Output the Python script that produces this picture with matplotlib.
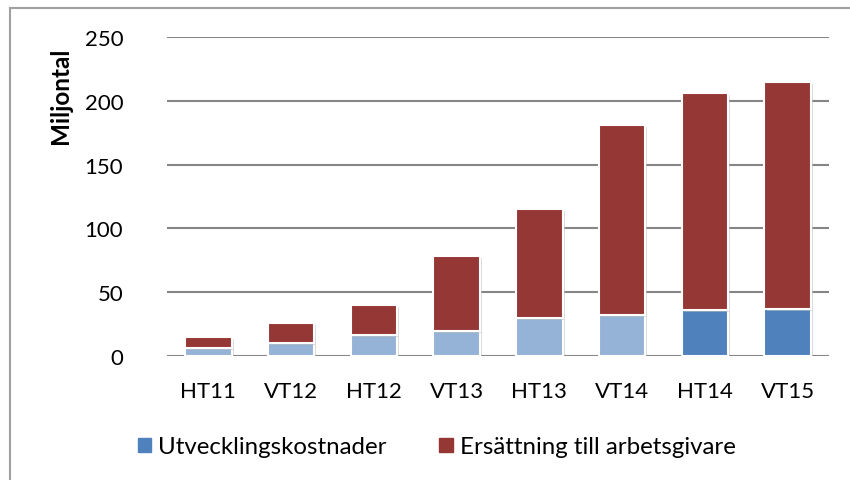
import matplotlib
matplotlib.use("Agg")
import matplotlib.pyplot as plt
import matplotlib.patheffects as pe
from matplotlib.lines import Line2D
import numpy as np

plt.rcParams['font.family'] = ['Lato', 'DejaVu Sans']

terms = ["HT11", "VT12", "HT12", "VT13", "HT13", "VT14", "HT14", "VT15"]
utveckling = [6, 10, 16.5, 19.5, 29.5, 32, 36, 37]
totals = [15, 26, 40, 78.5, 115, 181, 206, 214.5]
ersattning = list(np.array(totals) - np.array(utveckling))

blue_light = "#95B3D7"
blue = "#4F81BD"
red = "#953735"
blue_cols = [blue_light] * 6 + [blue] * 2

fig = plt.figure(figsize=(8.5, 4.81), dpi=100)
ax = fig.add_axes([167 / 850, 1 - 357 / 481, 662 / 850, 319 / 481])

x = np.arange(len(terms))
shadow = [pe.SimplePatchShadow(offset=(1.5, -1.5), shadow_rgbFace="#bbbbbb", alpha=0.5), pe.Normal()]
b1 = ax.bar(x, utveckling, 0.56, color=blue_cols, edgecolor="white", linewidth=1.5,
            zorder=3, label="Utvecklingskostnader")
b2 = ax.bar(x, ersattning, 0.56, bottom=utveckling, color=red, edgecolor="white",
            linewidth=1.5, zorder=3, label="Ersättning till arbetsgivare")
for r in list(b1) + list(b2):
    r.set_path_effects(shadow)

ax.set_xlim(-0.5, 7.5)
ax.set_ylim(0, 250)
ax.set_yticks(range(0, 251, 50))
ax.set_xticks(x)
ax.set_xticklabels(terms)
ax.yaxis.grid(True, color="#868686", linewidth=1.5, zorder=0)
ax.set_axisbelow(True)
for s in ax.spines.values():
    s.set_visible(False)
ax.tick_params(length=0, labelsize=16, colors="black")
ax.tick_params(axis="y", pad=31.5)
ax.tick_params(axis="x", pad=18)
ax.set_ylabel("Miljontal", fontsize=17.5, fontweight="bold")
ax.yaxis.set_label_coords(-95 / 662, (357 - 96) / 319)

handles = [plt.Rectangle((0, 0), 1, 1, color=blue), plt.Rectangle((0, 0), 1, 1, color=red)]
fig.legend(handles, ["Utvecklingskostnader", "Ersättning till arbetsgivare"],
           loc="center left", bbox_to_anchor=(128 / 850, 1 - 448 / 481), ncol=2,
           frameon=False, fontsize=17.3, handlelength=0.55, handleheight=0.55,
           handletextpad=0.3, columnspacing=2.2, borderaxespad=0)

# frame around the chart
fig.add_artist(Line2D([9.5 / 850, 9.5 / 850], [0, 1 - 9 / 481], color="#a0a0a0", linewidth=1.5))
fig.add_artist(Line2D([9.5 / 850, 1], [1 - 9 / 481, 1 - 9 / 481], color="#a0a0a0", linewidth=1.5))

# caption of the document, cut off at the top
fig.text(12 / 850, 1 + 5 / 481, "Figur 1 Totala utbetalda belopp per termin och kategori, HT11 – VT15",
         family="Liberation Serif", fontsize=19, va="baseline", ha="left")

fig.savefig("out.png", dpi=100)
